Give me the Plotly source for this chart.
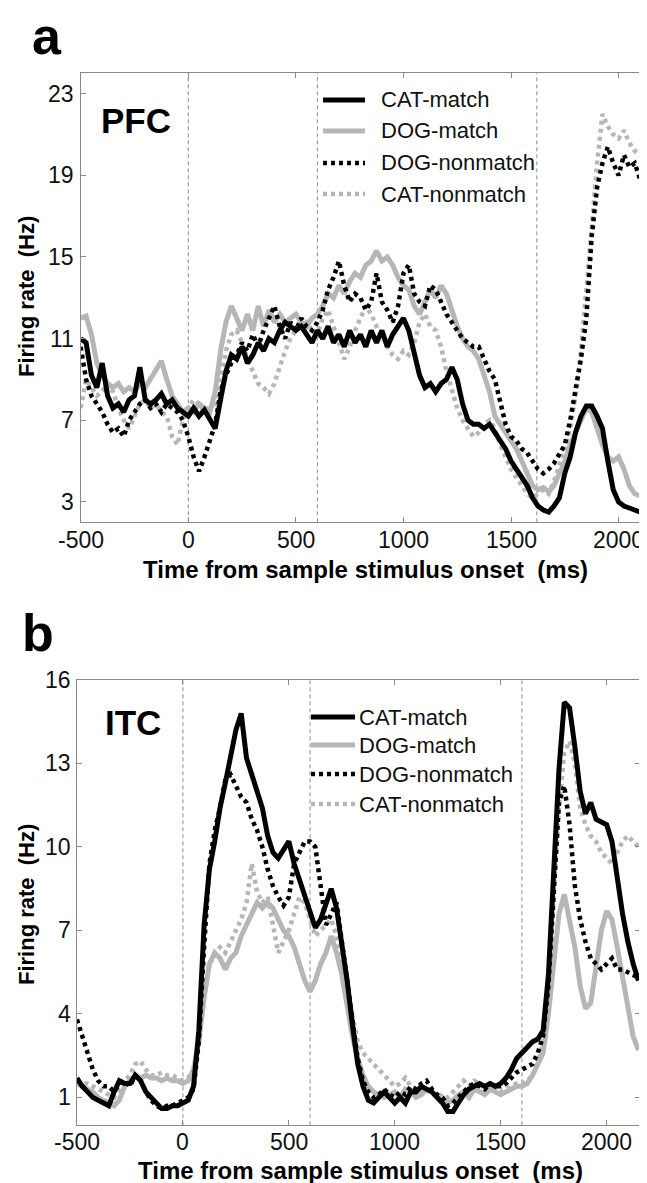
import plotly.graph_objects as go

# ---------------- data ----------------
time_ms = list(range(-500, 2151, 25))  # 107 sample times (ms)
pfc_events = [0, 600, 1620]
itc_events = [0, 600, 1600]
series_names = ["CAT-match", "DOG-match", "DOG-nonmatch", "CAT-nonmatch"]
x_ticks = [-500, 0, 500, 1000, 1500, 2000]
x_tick_labels = ["-500", "0", "500", "1000", "1500", "2000"]
pfc_y_ticks = [3, 7, 11, 15, 19, 23]
itc_y_ticks = [1, 4, 7, 10, 13, 16]

pfc_cat_match = [
    11.0, 10.8, 9.2, 8.6, 9.8, 8.2, 7.6, 7.8, 7.4, 8.0,
    8.2, 9.6, 8.0, 7.8, 8.0, 8.3, 7.8, 8.0, 7.6, 7.4,
    7.2, 7.6, 7.2, 7.5, 7.0, 6.6, 8.0, 9.4, 10.2, 10.0,
    10.6, 9.8, 10.2, 10.8, 10.4, 11.0, 10.8, 11.4, 11.8, 11.6,
    11.4, 11.6, 11.2, 10.8, 11.4, 11.0, 11.6, 10.8, 11.2, 10.6,
    11.4, 10.8, 11.2, 10.6, 11.4, 10.8, 11.4, 10.6, 11.2, 11.6,
    12.0, 11.4, 10.4, 9.2, 8.6, 8.8, 8.4, 8.8, 9.0, 9.6,
    9.0, 7.8, 7.0, 6.8, 6.8, 6.6, 6.8, 6.4, 6.0, 5.6,
    5.0, 4.6, 4.3, 3.8, 3.2, 2.8, 2.6, 2.5, 2.8, 3.2,
    4.4, 5.2, 6.4, 7.2, 7.7, 7.7, 7.2, 6.6, 5.0, 3.6,
    3.0, 2.8, 2.7, 2.6, 2.5, 2.4, 2.3]
pfc_dog_match = [
    12.0, 12.1, 11.2, 9.8, 9.2, 8.8, 8.6, 8.8, 8.4, 8.6,
    8.4, 8.8, 8.6, 9.0, 9.4, 9.9, 9.0, 8.2, 7.8, 7.4,
    7.6, 7.4, 7.8, 7.6, 7.4, 8.4, 10.4, 11.8, 12.6, 12.0,
    11.4, 12.2, 11.4, 12.6, 11.6, 12.4, 11.8, 12.2, 11.8, 12.0,
    12.2, 11.8, 11.6, 12.0, 12.2, 12.6, 13.2, 13.0, 13.6, 13.2,
    13.8, 14.2, 14.0, 14.6, 14.8, 15.3, 14.8, 15.0, 14.6, 14.0,
    13.6, 13.4, 12.6, 12.2, 12.8, 13.4, 13.0, 13.6, 13.2, 12.4,
    11.6, 11.0, 10.6, 10.4, 10.0, 9.2, 8.4, 7.2, 6.8, 6.4,
    6.0, 5.6, 5.0, 4.4, 3.8, 3.6, 3.7, 3.5, 3.8, 4.4,
    5.0, 5.8, 6.4, 7.0, 7.6, 7.4, 6.6, 5.8, 5.2, 5.0,
    5.2, 4.6, 3.8, 3.4, 3.3, 3.2, 3.2]
pfc_dog_nonmatch = [
    10.6, 9.0, 8.2, 7.8, 7.4, 6.8, 6.4, 6.6, 6.2, 7.0,
    7.4, 7.8, 8.0, 7.6, 7.8, 7.4, 7.8, 7.6, 7.4, 7.0,
    6.2, 5.2, 4.5, 5.2, 6.0, 6.8, 8.4, 9.2, 9.8, 10.2,
    10.8, 10.4, 11.2, 10.6, 11.4, 12.0, 12.6, 11.6, 11.0, 11.8,
    11.4, 12.0, 11.6, 11.4, 11.8, 12.4, 13.4, 14.0, 14.8, 13.6,
    12.8, 13.2, 13.0, 12.4, 12.8, 14.2, 12.8, 12.4, 11.8, 12.6,
    14.2, 14.6, 13.2, 12.8, 12.6, 13.6, 13.4, 12.8, 12.2, 11.8,
    11.4, 11.0, 10.8, 10.6, 10.6, 10.0, 9.4, 9.0, 8.0, 6.8,
    6.2, 6.0, 5.6, 5.4, 5.0, 4.6, 4.4, 4.6, 4.9, 5.4,
    5.8, 7.0, 8.5, 10.0, 12.0, 16.0, 18.4, 19.6, 20.4, 19.6,
    19.0, 20.0, 19.4, 19.6, 18.8, 18.4, 18.2]
pfc_cat_nonmatch = [
    7.6, 9.0, 8.6, 8.2, 8.4, 8.8, 8.4, 7.6, 7.0, 6.6,
    7.2, 7.8, 8.0, 7.6, 7.8, 7.4, 7.2, 6.2, 5.8, 7.0,
    7.6, 8.0, 7.8, 7.4, 7.8, 7.6, 9.0, 10.4, 11.2, 11.4,
    10.8, 10.0, 9.4, 8.8, 8.6, 8.3, 8.8, 9.6, 10.4, 11.0,
    11.4, 11.6, 11.8, 11.4, 11.2, 12.0, 12.4, 11.6, 10.8, 10.0,
    10.6, 11.4, 12.0, 12.6, 12.2, 11.6, 11.2, 10.6, 10.2, 10.0,
    10.4, 10.2, 10.8, 11.8, 12.2, 11.6, 11.4, 10.6, 9.4, 8.4,
    7.6, 7.0, 6.6, 6.2, 6.4, 6.8, 7.0, 6.6, 5.8, 5.2,
    4.6, 4.2, 3.8, 3.4, 3.2, 3.4, 3.6, 3.4, 4.0, 4.8,
    5.6, 6.6, 8.2, 10.4, 13.2, 16.4, 19.6, 22.0, 21.4, 21.0,
    20.8, 21.2, 20.6, 20.2, 20.0, 19.8, 19.6]

itc_cat_match = [
    1.7, 1.4, 1.2, 1.0, 0.9, 0.8, 0.7, 1.2, 1.6, 1.5,
    1.5, 1.8, 1.6, 1.2, 1.0, 0.8, 0.6, 0.6, 0.7, 0.7,
    0.8, 0.9, 1.4, 3.4, 7.2, 9.2, 10.2, 11.4, 12.3, 13.2,
    14.2, 14.8, 13.2, 12.6, 12.0, 11.4, 10.4, 9.8, 9.6, 9.9,
    10.2, 9.4, 8.8, 8.2, 7.6, 7.1, 7.4, 8.0, 8.5, 7.8,
    6.6, 5.2, 3.6, 2.2, 1.4, 0.9, 0.8, 1.0, 1.2, 1.0,
    0.8, 1.0, 0.8, 1.2, 1.2, 1.4, 1.3, 1.2, 1.0, 0.8,
    0.5, 0.5, 0.8, 1.1, 1.3, 1.4, 1.5, 1.4, 1.5, 1.4,
    1.5, 1.7, 2.0, 2.4, 2.6, 2.8, 3.0, 3.1, 3.4, 5.4,
    9.0, 12.8, 15.2, 15.0, 13.6, 12.0, 11.2, 11.6, 11.0, 10.9,
    10.8, 10.2, 8.8, 7.6, 6.6, 5.8, 5.2]
itc_dog_match = [
    1.5, 1.4, 1.3, 1.2, 1.0, 0.9, 0.8, 0.7, 0.9, 1.4,
    1.6, 1.8, 1.7, 1.8, 1.7, 1.7, 1.6, 1.7, 1.6, 1.6,
    1.5, 1.6, 2.0, 3.0, 4.6, 5.8, 6.2, 6.0, 5.6, 6.0,
    6.2, 6.8, 7.2, 7.6, 8.0, 7.8, 8.0, 7.8, 7.4, 7.0,
    6.8, 6.4, 5.8, 5.2, 4.8, 5.2, 5.8, 6.2, 6.8, 6.2,
    5.4, 4.2, 3.2, 2.4, 1.8, 1.4, 1.2, 1.1, 1.0, 1.1,
    1.2, 1.0, 1.3, 1.2, 1.0, 1.1, 1.3, 1.2, 1.0, 0.9,
    0.8, 0.9, 1.1, 1.2, 1.0, 1.3, 1.2, 1.1, 1.3, 1.2,
    1.1, 1.2, 1.3, 1.4, 1.4, 1.5, 1.8, 2.2, 2.6, 4.0,
    6.0, 7.6, 8.3, 7.4, 6.4, 5.0, 4.2, 4.4, 5.6, 7.0,
    7.7, 7.4, 6.4, 5.4, 4.4, 3.2, 2.7]
itc_dog_nonmatch = [
    3.8, 3.2, 2.6, 2.0, 1.6, 1.4, 1.4, 1.2, 1.5, 1.6,
    1.4, 1.8, 1.6, 1.2, 0.9, 0.7, 0.6, 0.7, 0.7, 0.8,
    0.9, 1.0, 1.3, 3.0, 6.4, 9.4, 10.6, 11.4, 12.4, 12.6,
    12.2, 11.8, 11.6, 11.0, 10.6, 10.0, 9.2, 8.6, 8.2, 7.9,
    8.2, 9.4, 9.8, 10.2, 10.2, 10.0, 8.6, 7.2, 7.6, 8.0,
    6.6, 5.2, 3.8, 2.4, 1.6, 1.2, 1.0, 1.1, 1.3, 1.1,
    1.0, 1.2, 1.1, 1.4, 1.3, 1.5, 1.6, 1.3, 1.1, 1.0,
    0.7, 0.8, 1.0, 1.2, 1.4, 1.5, 1.4, 1.3, 1.5, 1.4,
    1.4, 1.5, 1.7, 1.9, 2.0, 2.1, 2.2, 2.6, 3.2, 5.0,
    8.6, 11.6, 12.2, 10.8, 8.6, 7.4, 6.6, 6.0, 5.8, 5.6,
    5.8, 6.0, 5.6, 5.6, 5.5, 5.4, 5.3]
itc_cat_nonmatch = [
    1.6, 1.5, 1.5, 1.4, 1.3, 1.2, 1.1, 1.0, 1.2, 1.6,
    1.8, 2.2, 2.3, 2.0, 1.8, 1.8, 1.9, 1.8, 1.8, 1.7,
    1.6, 1.7, 2.0, 3.0, 4.6, 5.8, 6.2, 6.4, 6.2, 6.6,
    7.0, 7.4, 8.0, 9.4, 8.4, 8.0, 8.2, 7.2, 6.2, 6.6,
    7.0, 7.6, 8.2, 8.0, 7.4, 6.8, 7.0, 7.2, 7.4, 6.8,
    5.8, 4.8, 3.8, 3.0, 2.6, 2.4, 2.2, 2.0, 1.8, 1.6,
    1.4, 1.5, 1.7, 1.4, 1.3, 1.2, 1.3, 1.1, 1.2, 1.0,
    1.0, 1.2, 1.4, 1.6, 1.4, 1.6, 1.5, 1.3, 1.4, 1.2,
    1.2, 1.3, 1.4, 1.5, 1.5, 1.6, 1.8, 2.2, 3.0, 5.0,
    8.4, 11.4, 13.4, 13.8, 13.0, 11.4, 10.8, 10.4, 10.2, 9.8,
    9.6, 9.4, 9.8, 10.2, 10.4, 10.2, 10.0]

# ---------------- layout helpers ----------------
# The page body has an 8px margin, so the figure is drawn 8px in from the
# window's top-left corner; positions below are given in window pixels.
OFF = 8
W, H = 647 - OFF, 1183 - OFF
FONT = "Liberation Sans, Arial, sans-serif"
BLACK = "#000000"
GRAY = "#b6b6b6"
AXIS = "#8a8a8a"
TEXT = "#111111"


def px(x):
    return (x - OFF) / W


def py(y):
    return 1 - (y - OFF) / H


styles = {
    "CAT-match": dict(color=BLACK, width=5, dash="solid"),
    "DOG-match": dict(color=GRAY, width=5, dash="solid"),
    "DOG-nonmatch": dict(color=BLACK, width=4.5, dash="4px,4px"),
    "CAT-nonmatch": dict(color=GRAY, width=4.5, dash="4px,4px"),
}
draw_order = ["CAT-nonmatch", "DOG-match", "DOG-nonmatch", "CAT-match"]

panels = [
    dict(xa="x", ya="y", events=pfc_events, yticks=pfc_y_ticks,
         ylab_x=76, xlab_y=539.5,
         data=dict(zip(series_names, [pfc_cat_match, pfc_dog_match, pfc_dog_nonmatch, pfc_cat_nonmatch]))),
    dict(xa="x2", ya="y2", events=itc_events, yticks=itc_y_ticks,
         ylab_x=73, xlab_y=1141.5,
         data=dict(zip(series_names, [itc_cat_match, itc_dog_match, itc_dog_nonmatch, itc_cat_nonmatch]))),
]

fig = go.Figure()
for p in panels:
    for name in draw_order:
        vals = p["data"][name]
        assert len(vals) == len(time_ms), (name, len(vals))
        fig.add_trace(go.Scatter(
            x=time_ms, y=vals, mode="lines", name=name, showlegend=False,
            line=dict(color=styles[name]["color"], width=styles[name]["width"], dash=styles[name]["dash"]),
            xaxis=p["xa"], yaxis=p["ya"], hoverinfo="skip"))

axis_common = dict(
    showline=True, linecolor=AXIS, linewidth=1, mirror="ticks",
    ticks="inside", ticklen=5, tickcolor=AXIS, tickwidth=1,
    showgrid=False, zeroline=False, showticklabels=False,
)

fig.update_layout(
    width=W, height=H, margin=dict(l=0, r=0, t=0, b=0),
    paper_bgcolor="white", plot_bgcolor="white", showlegend=False,
    xaxis=dict(domain=[px(80.7), 1.0], range=[-500, 2132], tickvals=x_ticks,
               anchor="y", **axis_common),
    yaxis=dict(domain=[py(522.3), py(73.3)], range=[2, 24], tickvals=pfc_y_ticks,
               anchor="x", **axis_common),
    xaxis2=dict(domain=[px(77), px(639.5)], range=[-500, 2155], tickvals=x_ticks,
                anchor="y2", **axis_common),
    yaxis2=dict(domain=[py(1125.3), py(680)], range=[0, 16], tickvals=itc_y_ticks,
                anchor="x2", **axis_common),
)

shapes = []
annotations = []


def text(x, y, s, size, bold=False, xanchor="left", angle=0, xref="paper", yref="paper"):
    annotations.append(dict(
        x=px(x) if xref == "paper" else x, y=py(y) if yref == "paper" else y,
        xref=xref, yref=yref, text=f"<b>{s}</b>" if bold else s,
        showarrow=False, xanchor=xanchor, yanchor="middle", textangle=angle,
        font=dict(family=FONT, size=size, color="#000000" if bold else TEXT)))


for p in panels:
    for t in p["events"]:
        shapes.append(dict(type="line", xref=p["xa"], yref=p["ya"] + " domain", x0=t, x1=t, y0=0, y1=1,
                           line=dict(color="#8c8c8c", width=1, dash="4px,3px"), layer="below"))
    # tick labels placed as in the figure (hyphen minus, tight to the axes)
    for v, lab in zip(x_ticks, x_tick_labels):
        text(v, p["xlab_y"], lab, 23, xanchor="center", xref=p["xa"])
    for v in p["yticks"]:
        text(p["ylab_x"], v, str(v), 23, xanchor="right", yref=p["ya"])

# panel letters and area labels
text(30, 36, "a", 52, bold=True)
text(20, 633, "b", 52, bold=True)
text(99, 121, "PFC", 35, bold=True)
text(103, 722, "ITC", 35, bold=True)

# legends (drawn by hand, as in the figure)
legend_a = dict(x0=323, x1=365, tx=379, rows=[100, 131, 163, 194])
legend_b = dict(x0=311, x1=355, tx=357, rows=[717, 745, 774, 804])
for lg in (legend_a, legend_b):
    for name, ry in zip(series_names, lg["rows"]):
        st = styles[name]
        shapes.append(dict(type="line", xref="paper", yref="paper",
                           x0=px(lg["x0"]), x1=px(lg["x1"]), y0=py(ry), y1=py(ry),
                           line=dict(color=st["color"], width=st["width"], dash=st["dash"])))
        text(lg["tx"], ry, name, 22)

# axis titles
xt = "Time from sample stimulus onset  (ms)"
text(365, 569, xt, 24, bold=True, xanchor="center")
text(360, 1170.5, xt, 24, bold=True, xanchor="center")
text(26, 297, "Firing rate  (Hz)", 22, bold=True, xanchor="center", angle=-90)
text(26, 905, "Firing rate  (Hz)", 22, bold=True, xanchor="center", angle=-90)

fig.update_layout(shapes=shapes, annotations=annotations)
fig.write_html("out.html")
